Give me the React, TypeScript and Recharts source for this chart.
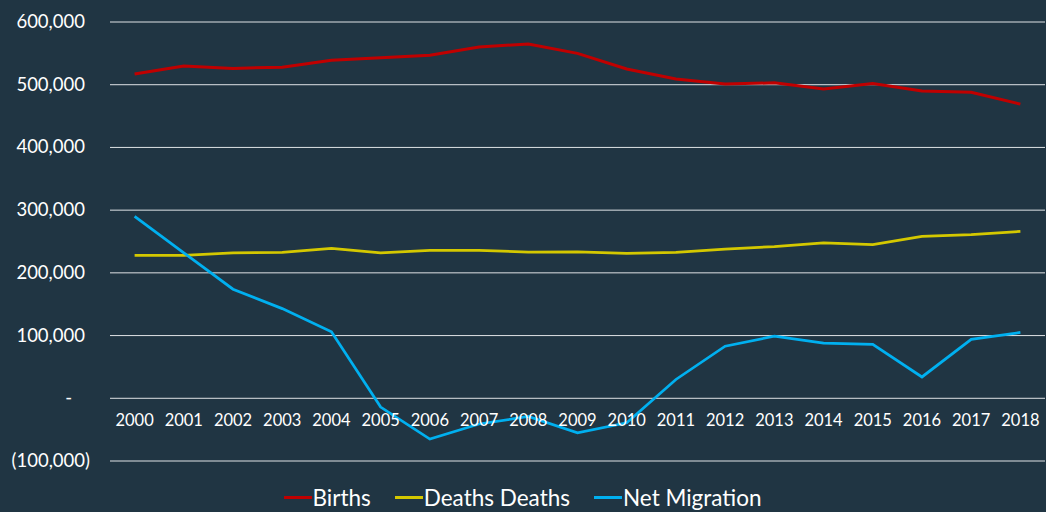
import React from "react";
import { LineChart, Line, XAxis, YAxis, CartesianGrid, Legend } from "recharts";

const years = ["2000","2001","2002","2003","2004","2005","2006","2007","2008","2009","2010","2011","2012","2013","2014","2015","2016","2017","2018"];
const births = [517000,530000,526000,528000,539000,543000,547000,560000,565000,550000,525000,509000,501000,503000,493000,502000,490000,488000,469000];
const deaths = [228000,228000,232000,232500,239000,232000,236000,236000,233000,233500,231000,232500,238000,242000,248000,245000,258000,261000,266000];
const netMigration = [290000,232000,174000,143000,106000,-14000,-65000,-41000,-29000,-55000,-39000,30000,83000,99000,88000,86000,34000,94000,105000];
const yTicks = [-100000,0,100000,200000,300000,400000,500000,600000];

const data = years.map((y, i) => ({ year: y, births: births[i], deaths: deaths[i], net: netMigration[i] }));

const W = 1046;
const H = 512;
const TOP = 22;
const PLOT_BOTTOM = 461;
const PLOT_H = PLOT_BOTTOM - TOP;
const ZERO_OFFSET = (PLOT_H * 100000) / 700000;
const BG = "#203543";
const FONT = "Lato, 'Open Sans', sans-serif";

const fmt = (v: number) => {
  if (v === 0) return "-";
  const s = Math.abs(v).toLocaleString("en-US");
  return v < 0 ? `(${s})` : s;
};

const YTick = (props: any) => {
  const { x, y, payload } = props;
  const v = payload.value as number;
  const dx = v === 0 ? -38 : v < 0 ? -20 : -25;
  return (
    <text x={x + dx} y={y} dy={6} textAnchor="end" fill="#ffffff" fontSize={18.5} fontFamily={FONT}>
      {fmt(v)}
    </text>
  );
};

const XTick = (props: any) => {
  const { x, y, payload } = props;
  return (
    <text x={x} y={y - ZERO_OFFSET + 28} textAnchor="middle" fill="#ffffff" fontSize={16.5} fontFamily={FONT}>
      {payload.value}
    </text>
  );
};

const legendItems = [
  { label: "Births", color: "#c00000" },
  { label: "Deaths Deaths", color: "#d4c800" },
  { label: "Net Migration", color: "#00b0f0" },
];

const LegendContent = () => (
  <div style={{ display: "flex", justifyContent: "center", alignItems: "center", height: 40, paddingTop: 10, boxSizing: "border-box", fontFamily: FONT, fontSize: 22.5, color: "#ffffff" }}>
    {legendItems.map((it) => (
      <div key={it.label} style={{ display: "flex", alignItems: "center", margin: "0 12px" }}>
        <div style={{ width: 28, height: 3, background: it.color }} />
        <span style={{ marginLeft: 1 }}>{it.label}</span>
      </div>
    ))}
  </div>
);

export default function App() {
  return (
    <div style={{ position: "absolute", left: 0, top: 0, width: W, height: H, background: BG }}>
      <LineChart width={W} height={H} data={data} margin={{ top: TOP, right: 1, left: 0, bottom: 0 }}>
        <CartesianGrid vertical={false} stroke="#dfe3e6" strokeWidth={1} />
        <XAxis dataKey="year" axisLine={false} tickLine={false} tickSize={0} tickMargin={0} height={11} tick={<XTick />} interval={0} padding={{ left: 24.6, right: 24.6 }} />
        <YAxis
          domain={[-100000, 600000]}
          ticks={yTicks}
          width={110}
          axisLine={false}
          tickLine={false}
          tickSize={0}
          tickMargin={0}
          tick={<YTick />}
          interval={0}
        />
        <Legend verticalAlign="bottom" height={40} content={<LegendContent />} />
        <Line dataKey="births" stroke="#c00000" strokeWidth={3} dot={false} isAnimationActive={false} />
        <Line dataKey="deaths" stroke="#d4c800" strokeWidth={2.75} dot={false} isAnimationActive={false} />
        <Line dataKey="net" stroke="#00b0f0" strokeWidth={2.75} dot={false} isAnimationActive={false} />
      </LineChart>
    </div>
  );
}
